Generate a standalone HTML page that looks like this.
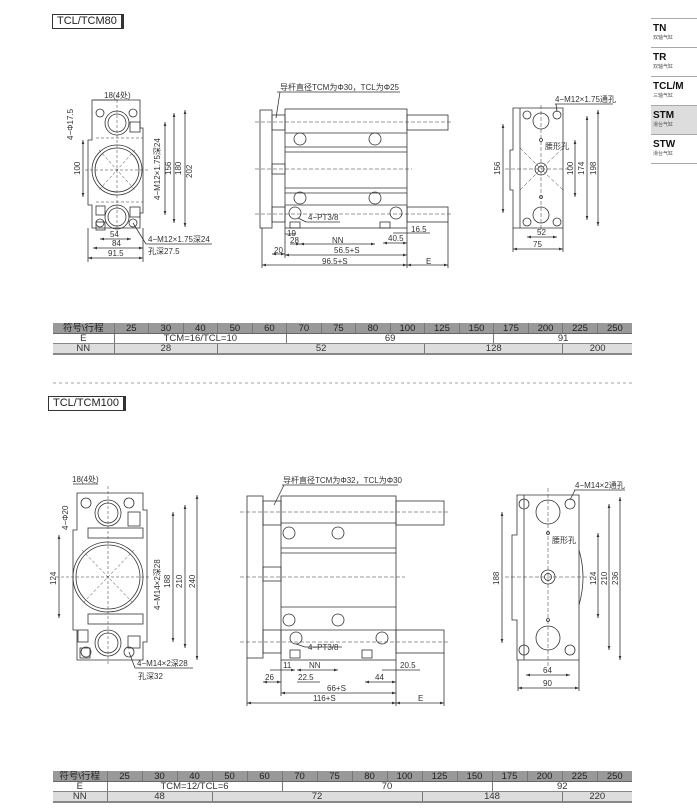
<!DOCTYPE html>
<html><head><meta charset="utf-8"><style>
body{margin:0;width:697px;height:810px;background:#fff;position:relative;overflow:hidden;font-family:"Liberation Sans","Noto Sans CJK SC",sans-serif}
.tag{position:absolute;border:1px solid #333;border-right:3px solid #333;font-size:11px;line-height:13px;padding:0 4px;color:#222;background:#fff}
table{position:absolute;border-collapse:collapse;font-size:9.5px;color:#333;table-layout:fixed}
td{border-left:1px solid #777;text-align:center;padding:0;height:9px;line-height:9px;overflow:hidden;white-space:nowrap}
tr.h td{background:#999;color:#222;border-bottom:1px solid #666;height:10px}
tr.e td{background:#fff;border-bottom:1px solid #888}
tr.n td{background:#ddd;border-bottom:2px solid #888}
td:first-child{border-left:none}
.side{position:absolute;left:651px;width:46px;font-family:"Liberation Sans","Noto Sans CJK SC",sans-serif}
.side div{border-top:1px solid #aaa;padding:4px 0 3px 2px;height:21px}
.side b{display:block;font-size:10px;line-height:11px;color:#111}
.side span{display:block;font-size:5px;line-height:8px;color:#555}
</style></head><body>
<div class="tag" style="left:52px;top:14px">TCL/TCM80</div>
<div class="tag" style="left:48px;top:396px">TCL/TCM100</div>
<div class="side" style="top:18px">
<div><b>TN</b><span>双轴气缸</span></div>
<div><b>TR</b><span>双轴气缸</span></div>
<div><b>TCL/M</b><span>三轴气缸</span></div>
<div style="background:#ddd"><b>STM</b><span>滑台气缸</span></div>
<div style="border-bottom:1px solid #aaa"><b>STW</b><span>滑台气缸</span></div>
</div>

<svg width="697" height="810" style="position:absolute;left:0;top:0" xmlns="http://www.w3.org/2000/svg" font-family="Liberation Sans, Noto Sans CJK SC, sans-serif" font-size="8" fill="none" stroke="#333" stroke-width="0.8">
<defs><marker id="a" viewBox="0 0 6 6" refX="6" refY="3" markerWidth="5" markerHeight="5" orient="auto-start-reverse"><path d="M0,1 L6,3 L0,5z" fill="#333" stroke="none"/></marker></defs>
<line x1="53" y1="383" x2="632" y2="383" stroke="#888" stroke-dasharray="3,3"/>

<!-- TOP LEFT VIEW -->
<g>
<path d="M92,100 H140 V128 H143 V213 H140 V228 H92 V205 H88 V140 H92Z"/>
<circle cx="117" cy="123" r="12"/><circle cx="117" cy="123" r="9"/>
<circle cx="117" cy="170" r="25"/><circle cx="117" cy="170" r="22"/>
<circle cx="117" cy="217" r="12"/><circle cx="117" cy="217" r="9"/>
<circle cx="100" cy="113" r="4"/><circle cx="133" cy="113" r="4"/><circle cx="100" cy="223" r="4"/><circle cx="133" cy="223" r="4"/>
<rect x="130" y="122" width="10" height="10"/><rect x="130" y="207" width="10" height="10"/>
<rect x="96" y="206" width="9" height="9"/><rect x="96" y="222" width="9" height="8"/>
<g stroke-dasharray="3,2" stroke-width="0.5"><line x1="117" y1="95" x2="117" y2="232"/><line x1="85" y1="170" x2="150" y2="170"/><line x1="96" y1="138" x2="143" y2="138"/><line x1="96" y1="202" x2="143" y2="202"/><line x1="99" y1="150" x2="135" y2="190"/><line x1="135" y1="150" x2="99" y2="190"/></g>
<line x1="165" y1="122" x2="165" y2="215" marker-start="url(#a)" marker-end="url(#a)"/>
<line x1="174" y1="113" x2="174" y2="223" marker-start="url(#a)" marker-end="url(#a)"/>
<line x1="185" y1="110" x2="185" y2="227" marker-start="url(#a)" marker-end="url(#a)"/>
<line x1="83" y1="140" x2="83" y2="197" marker-start="url(#a)" marker-end="url(#a)"/>
<line x1="100" y1="239" x2="131" y2="239" marker-start="url(#a)" marker-end="url(#a)"/>
<line x1="93" y1="248" x2="143" y2="248" marker-start="url(#a)" marker-end="url(#a)"/>
<line x1="88" y1="258" x2="143" y2="258" marker-start="url(#a)" marker-end="url(#a)"/>
<line x1="88" y1="228" x2="88" y2="262"/><line x1="143" y1="228" x2="143" y2="262"/>
<line x1="93" y1="100" x2="118" y2="100"/>
<line x1="133" y1="223" x2="146" y2="244"/><line x1="146" y1="244" x2="212" y2="244"/>
<g fill="#333" stroke="none">
<text x="104" y="98">18(4处)</text>
<text transform="translate(73,140) rotate(-90)">4−Φ17.5</text>
<text transform="translate(80,175) rotate(-90)">100</text>
<text transform="translate(160,200) rotate(-90)">4−M12×1.75深24</text>
<text transform="translate(171,175) rotate(-90)">156</text>
<text transform="translate(181,175) rotate(-90)">180</text>
<text transform="translate(192,178) rotate(-90)">202</text>
<text x="110" y="237">54</text><text x="112" y="246">84</text><text x="108" y="256">91.5</text>
<text x="148" y="242">4−M12×1.75深24</text><text x="148" y="254">孔深27.5</text>
</g></g>

<!-- TOP MIDDLE -->
<g>
<rect x="260" y="110" width="12" height="118"/>
<rect x="285" y="109" width="122" height="119"/>
<rect x="407" y="115" width="41" height="15"/><rect x="407" y="207" width="41" height="15"/>
<rect x="272" y="115" width="13" height="15"/><rect x="272" y="207" width="13" height="15"/><rect x="272" y="164" width="13" height="10"/>
<line x1="285" y1="133" x2="407" y2="133"/><line x1="285" y1="147" x2="407" y2="147"/><line x1="285" y1="152" x2="407" y2="152"/><line x1="285" y1="188" x2="407" y2="188"/><line x1="285" y1="193" x2="407" y2="193"/><line x1="285" y1="205" x2="407" y2="205"/>
<circle cx="300" cy="139" r="6"/><circle cx="375" cy="139" r="6"/><circle cx="300" cy="198" r="6"/><circle cx="375" cy="198" r="6"/>
<circle cx="295" cy="213" r="6"/><circle cx="396" cy="213" r="6"/>
<rect x="290" y="222" width="10" height="6"/><rect x="380" y="222" width="10" height="6"/>
<g stroke-dasharray="4,2" stroke-width="0.5"><line x1="255" y1="122" x2="452" y2="122"/><line x1="255" y1="169" x2="412" y2="169"/><line x1="255" y1="214" x2="452" y2="214"/></g>
<line x1="277" y1="92" x2="400" y2="92"/><line x1="280" y1="92" x2="276" y2="118"/>
<line x1="298" y1="218" x2="306" y2="222"/><line x1="306" y1="222" x2="340" y2="222"/>
<line x1="285" y1="234" x2="296" y2="234"/><line x1="290" y1="244" x2="300" y2="244" marker-end="url(#a)"/>
<line x1="300" y1="244" x2="375" y2="244" marker-start="url(#a)" marker-end="url(#a)"/>
<line x1="383" y1="243" x2="407" y2="243" marker-start="url(#a)" marker-end="url(#a)"/>
<line x1="393" y1="233" x2="430" y2="233"/>
<line x1="272" y1="254" x2="285" y2="254" marker-start="url(#a)" marker-end="url(#a)"/>
<line x1="285" y1="255" x2="407" y2="255" marker-start="url(#a)" marker-end="url(#a)"/>
<line x1="262" y1="265" x2="407" y2="265" marker-start="url(#a)" marker-end="url(#a)"/>
<line x1="407" y1="265" x2="448" y2="265" marker-start="url(#a)" marker-end="url(#a)"/>
<line x1="262" y1="228" x2="262" y2="268"/><line x1="407" y1="228" x2="407" y2="268"/><line x1="448" y1="222" x2="448" y2="268"/><line x1="285" y1="228" x2="285" y2="258"/>
<g fill="#333" stroke="none">
<text x="280" y="90">导杆直径TCM为Φ30，TCL为Φ25</text>
<text x="308" y="220">4−PT3/8</text>
<text x="287" y="236">19</text><text x="290" y="243">28</text><text x="332" y="243">NN</text>
<text x="388" y="241">40.5</text><text x="411" y="232">16.5</text>
<text x="274" y="253">20</text><text x="334" y="253">56.5+S</text><text x="322" y="264">96.5+S</text><text x="426" y="264">E</text>
</g></g>

<!-- TOP RIGHT -->
<g>
<path d="M513,108 H563 V228 H513 V190 H510 V150 H513Z"/>
<line x1="520" y1="108" x2="520" y2="228"/>
<circle cx="541" cy="121" r="8"/><circle cx="541" cy="215" r="8"/><circle cx="541" cy="169" r="6"/><circle cx="541" cy="169" r="3"/>
<circle cx="527" cy="115" r="4"/><circle cx="557" cy="115" r="4"/><circle cx="527" cy="222" r="4"/><circle cx="557" cy="222" r="4"/>
<circle cx="541" cy="140" r="1.5"/><circle cx="541" cy="197" r="1.5"/>
<g stroke-dasharray="4,2" stroke-width="0.5"><line x1="505" y1="169" x2="570" y2="169"/><line x1="541" y1="105" x2="541" y2="232"/><line x1="520" y1="148" x2="541" y2="169"/><line x1="563" y1="148" x2="541" y2="169"/><line x1="520" y1="190" x2="541" y2="169"/><line x1="563" y1="190" x2="541" y2="169"/></g>
<line x1="503" y1="124" x2="503" y2="213" marker-start="url(#a)" marker-end="url(#a)"/>
<line x1="575" y1="140" x2="575" y2="197" marker-start="url(#a)" marker-end="url(#a)"/>
<line x1="587" y1="116" x2="587" y2="220" marker-start="url(#a)" marker-end="url(#a)"/>
<line x1="598" y1="110" x2="598" y2="226" marker-start="url(#a)" marker-end="url(#a)"/>
<line x1="527" y1="237" x2="557" y2="237" marker-start="url(#a)" marker-end="url(#a)"/>
<line x1="513" y1="249" x2="563" y2="249" marker-start="url(#a)" marker-end="url(#a)"/>
<line x1="513" y1="228" x2="513" y2="252"/><line x1="563" y1="228" x2="563" y2="252"/>
<line x1="555" y1="104" x2="613" y2="104"/><line x1="556" y1="104" x2="557" y2="112"/>
<g fill="#333" stroke="none">
<text x="555" y="102">4−M12×1.75通孔</text><text x="545" y="149">腰形孔</text>
<text transform="translate(500,175) rotate(-90)">156</text>
<text transform="translate(573,175) rotate(-90)">100</text>
<text transform="translate(584,175) rotate(-90)">174</text>
<text transform="translate(596,175) rotate(-90)">198</text>
<text x="537" y="235">52</text><text x="533" y="247">75</text>
</g></g>

<!-- BOTTOM LEFT -->
<g>
<path d="M77,493 H143 V510 H147 V642 H143 V660 H77 V630 H73 V530 H77Z"/>
<circle cx="108" cy="513" r="13"/><circle cx="108" cy="513" r="10"/>
<circle cx="108" cy="577" r="35"/><circle cx="108" cy="577" r="32"/>
<circle cx="108" cy="643" r="13"/><circle cx="108" cy="643" r="10"/>
<circle cx="86" cy="503" r="5"/><circle cx="129" cy="503" r="5"/><circle cx="86" cy="652" r="5"/><circle cx="129" cy="652" r="5"/>
<rect x="128" y="512" width="12" height="14"/><rect x="128" y="636" width="12" height="12"/>
<rect x="78" y="630" width="10" height="12"/><rect x="80" y="648" width="10" height="10"/>
<rect x="88" y="528" width="55" height="10"/><rect x="88" y="614" width="55" height="10"/>
<g stroke-dasharray="3,2" stroke-width="0.5"><line x1="108" y1="486" x2="108" y2="664"/><line x1="56" y1="577" x2="150" y2="577"/><line x1="82" y1="550" x2="134" y2="604"/><line x1="134" y1="550" x2="82" y2="604"/></g>
<line x1="173" y1="512" x2="173" y2="642" marker-start="url(#a)" marker-end="url(#a)"/>
<line x1="185" y1="505" x2="185" y2="648" marker-start="url(#a)" marker-end="url(#a)"/>
<line x1="197" y1="495" x2="197" y2="660" marker-start="url(#a)" marker-end="url(#a)"/>
<line x1="59" y1="535" x2="59" y2="618" marker-start="url(#a)" marker-end="url(#a)"/>
<line x1="73" y1="484" x2="98" y2="484"/>
<line x1="129" y1="652" x2="135" y2="668"/><line x1="135" y1="668" x2="193" y2="668"/>
<g fill="#333" stroke="none">
<text x="72" y="482">18(4处)</text>
<text transform="translate(68,530) rotate(-90)">4−Φ20</text>
<text transform="translate(56,585) rotate(-90)">124</text>
<text transform="translate(160,610) rotate(-90)">4−M14×2深28</text>
<text transform="translate(170,588) rotate(-90)">188</text>
<text transform="translate(182,588) rotate(-90)">210</text>
<text transform="translate(195,588) rotate(-90)">240</text>
<text x="137" y="666">4−M14×2深28</text><text x="138" y="679">孔深32</text>
</g></g>

<!-- BOTTOM MIDDLE -->
<g>
<rect x="247" y="496" width="16" height="162"/>
<rect x="281" y="496" width="115" height="164"/>
<rect x="396" y="501" width="48" height="24"/><rect x="396" y="630" width="48" height="23"/>
<rect x="263" y="501" width="18" height="24"/><rect x="263" y="630" width="18" height="23"/><rect x="263" y="567" width="18" height="14"/>
<line x1="281" y1="523" x2="396" y2="523"/><line x1="281" y1="548" x2="396" y2="548"/><line x1="281" y1="553" x2="396" y2="553"/><line x1="281" y1="607" x2="396" y2="607"/><line x1="281" y1="630" x2="396" y2="630"/>
<circle cx="289" cy="533" r="6"/><circle cx="338" cy="533" r="6"/><circle cx="289" cy="620" r="6"/><circle cx="338" cy="620" r="6"/>
<circle cx="296" cy="638" r="6"/><circle cx="382" cy="638" r="6"/>
<rect x="290" y="650" width="10" height="8"/><rect x="362" y="650" width="10" height="8"/>
<g stroke-dasharray="4,2" stroke-width="0.5"><line x1="240" y1="512" x2="448" y2="512"/><line x1="240" y1="577" x2="405" y2="577"/><line x1="240" y1="642" x2="448" y2="642"/></g>
<line x1="282" y1="485" x2="398" y2="485"/><line x1="284" y1="485" x2="274" y2="505"/>
<line x1="296" y1="644" x2="305" y2="647"/><line x1="305" y1="647" x2="342" y2="647"/>
<line x1="270" y1="670" x2="295" y2="670" marker-end="url(#a)"/>
<line x1="297" y1="670" x2="338" y2="670" marker-start="url(#a)" marker-end="url(#a)"/>
<line x1="382" y1="670" x2="420" y2="670"/>
<line x1="263" y1="682" x2="281" y2="682" marker-start="url(#a)" marker-end="url(#a)"/>
<line x1="297" y1="682" x2="320" y2="682"/>
<line x1="365" y1="682" x2="396" y2="682" marker-start="url(#a)" marker-end="url(#a)"/>
<line x1="281" y1="693" x2="396" y2="693" marker-start="url(#a)" marker-end="url(#a)"/>
<line x1="247" y1="703" x2="396" y2="703" marker-start="url(#a)" marker-end="url(#a)"/>
<line x1="396" y1="703" x2="444" y2="703" marker-start="url(#a)" marker-end="url(#a)"/>
<line x1="247" y1="658" x2="247" y2="706"/><line x1="396" y1="660" x2="396" y2="706"/><line x1="444" y1="653" x2="444" y2="706"/><line x1="281" y1="660" x2="281" y2="696"/>
<g fill="#333" stroke="none">
<text x="283" y="483">导杆直径TCM为Φ32，TCL为Φ30</text>
<text x="308" y="650">4−PT3/8</text>
<text x="283" y="668">11</text><text x="309" y="668">NN</text><text x="400" y="668">20.5</text>
<text x="265" y="680">26</text><text x="298" y="680">22.5</text><text x="375" y="680">44</text>
<text x="327" y="691">66+S</text><text x="313" y="701">116+S</text><text x="418" y="701">E</text>
</g></g>

<!-- BOTTOM RIGHT -->
<g>
<path d="M517,495 H579 V660 H517 V620 H512 V535 H517Z"/>
<line x1="524" y1="495" x2="524" y2="660"/>
<circle cx="548" cy="512" r="12"/><circle cx="548" cy="638" r="12"/><circle cx="548" cy="577" r="7"/><circle cx="548" cy="577" r="3.5"/>
<circle cx="524" cy="504" r="5"/><circle cx="570" cy="504" r="5"/><circle cx="524" cy="650" r="5"/><circle cx="570" cy="650" r="5"/>
<circle cx="548" cy="533" r="1.5"/><circle cx="548" cy="620" r="1.5"/>
<path d="M579,550 Q587,577 579,605"/>
<g stroke-dasharray="4,2" stroke-width="0.5"><line x1="505" y1="577" x2="590" y2="577"/><line x1="548" y1="488" x2="548" y2="666"/></g>
<line x1="502" y1="512" x2="502" y2="643" marker-start="url(#a)" marker-end="url(#a)"/>
<line x1="598" y1="533" x2="598" y2="618" marker-start="url(#a)" marker-end="url(#a)"/>
<line x1="609" y1="504" x2="609" y2="650" marker-start="url(#a)" marker-end="url(#a)"/>
<line x1="620" y1="497" x2="620" y2="660" marker-start="url(#a)" marker-end="url(#a)"/>
<line x1="526" y1="675" x2="570" y2="675" marker-start="url(#a)" marker-end="url(#a)"/>
<line x1="518" y1="688" x2="579" y2="688" marker-start="url(#a)" marker-end="url(#a)"/>
<line x1="518" y1="660" x2="518" y2="691"/><line x1="579" y1="660" x2="579" y2="691"/>
<line x1="574" y1="490" x2="625" y2="490"/><line x1="575" y1="490" x2="570" y2="500"/>
<g fill="#333" stroke="none">
<text x="575" y="488">4−M14×2通孔</text><text x="552" y="543">腰形孔</text>
<text transform="translate(499,585) rotate(-90)">188</text>
<text transform="translate(596,585) rotate(-90)">124</text>
<text transform="translate(607,585) rotate(-90)">210</text>
<text transform="translate(618,585) rotate(-90)">236</text>
<text x="543" y="673">64</text><text x="543" y="686">90</text>
</g></g>
</svg>

<table style="left:53px;top:323px;width:579px">
<colgroup><col style="width:61px"><col span="15" style="width:34.5px"></colgroup>
<tr class="h"><td>符号\行程</td><td>25</td><td>30</td><td>40</td><td>50</td><td>60</td><td>70</td><td>75</td><td>80</td><td>100</td><td>125</td><td>150</td><td>175</td><td>200</td><td>225</td><td>250</td></tr>
<tr class="e"><td>E</td><td colspan="5">TCM=16/TCL=10</td><td colspan="6">69</td><td colspan="4">91</td></tr>
<tr class="n"><td>NN</td><td colspan="3">28</td><td colspan="6">52</td><td colspan="4">128</td><td colspan="2">200</td></tr>
</table>
<table style="left:53px;top:771px;width:579px">
<colgroup><col style="width:54px"><col span="15" style="width:35px"></colgroup>
<tr class="h"><td>符号\行程</td><td>25</td><td>30</td><td>40</td><td>50</td><td>60</td><td>70</td><td>75</td><td>80</td><td>100</td><td>125</td><td>150</td><td>175</td><td>200</td><td>225</td><td>250</td></tr>
<tr class="e"><td>E</td><td colspan="5">TCM=12/TCL=6</td><td colspan="6">70</td><td colspan="4">92</td></tr>
<tr class="n"><td>NN</td><td colspan="3">48</td><td colspan="6">72</td><td colspan="4">148</td><td colspan="2">220</td></tr>
</table>
</body></html>
